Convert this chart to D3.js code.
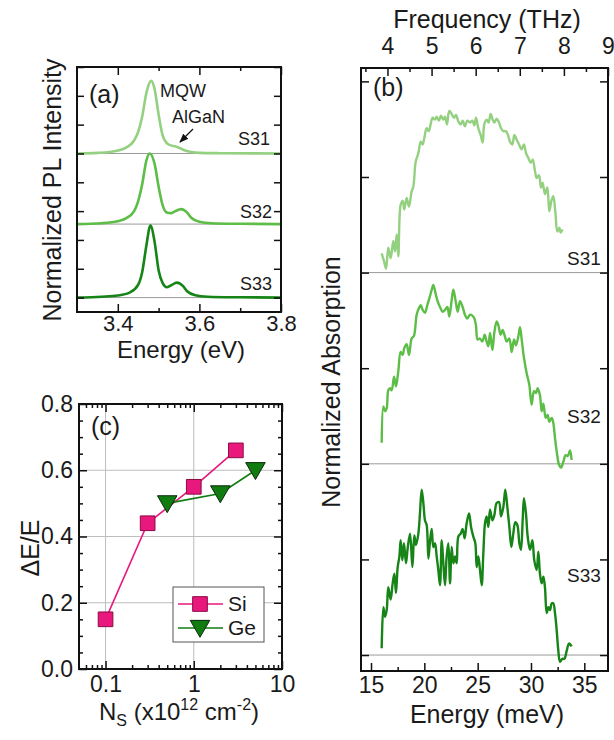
<!DOCTYPE html>
<html>
<head>
<meta charset="utf-8">
<script src="https://cdn.jsdelivr.net/npm/d3@7"></script>
<style>
body { margin: 0; background: #fff; }
text { font-family: "Liberation Sans", Arial, sans-serif; fill: #1a1a1a; }
</style>
</head>
<body>
<svg id="fig" width="614" height="740"></svg>
<script>
// ---- data ----
// (a) PL spectra: [energy eV, intensity above own baseline]
var plS31 = [[3.30,0.00],[3.35,0.02],[3.38,0.05],[3.40,0.10],[3.42,0.20],[3.44,0.45],[3.45,0.75],[3.46,1.30],[3.47,2.10],[3.482,2.52],[3.49,2.25],[3.50,1.35],[3.51,0.62],[3.52,0.36],[3.53,0.28],[3.54,0.25],[3.55,0.20],[3.56,0.13],[3.58,0.05],[3.60,0.02],[3.65,0.01],[3.80,0.00]];
var plS32 = [[3.30,0.00],[3.36,0.03],[3.40,0.10],[3.42,0.20],[3.44,0.45],[3.45,0.80],[3.46,1.40],[3.47,2.20],[3.478,2.45],[3.49,2.10],[3.50,1.30],[3.51,0.65],[3.52,0.40],[3.53,0.38],[3.54,0.44],[3.555,0.52],[3.57,0.40],[3.58,0.22],[3.60,0.08],[3.63,0.03],[3.70,0.01],[3.80,0.00]];
var plS33 = [[3.30,0.00],[3.36,0.03],[3.40,0.07],[3.43,0.18],[3.45,0.45],[3.46,0.90],[3.47,1.80],[3.48,2.50],[3.49,1.95],[3.50,0.95],[3.51,0.50],[3.52,0.36],[3.53,0.42],[3.545,0.52],[3.56,0.40],[3.57,0.22],[3.59,0.08],[3.62,0.03],[3.70,0.01],[3.80,0.00]];

// (b) absorption spectra: [energy meV, absorption above own baseline]
var absS31 = [[16.00,0.20],[16.22,0.12],[16.41,0.04],[16.62,0.26],[16.84,0.15],[17.09,0.33],[17.25,0.22],[17.41,0.40],[17.56,0.17],[17.78,0.71],[17.97,0.75],[18.12,0.66],[18.34,0.78],[18.56,0.69],[18.81,0.85],[18.97,0.90],[19.19,1.16],[19.44,1.25],[19.66,1.37],[19.84,1.34],[20.00,1.41],[20.22,1.51],[20.41,1.48],[20.59,1.55],[20.78,1.62],[21.00,1.60],[21.16,1.63],[21.37,1.59],[21.56,1.64],[21.78,1.60],[21.94,1.63],[22.12,1.55],[22.34,1.69],[22.56,1.66],[22.78,1.62],[22.97,1.65],[23.19,1.58],[23.41,1.55],[23.59,1.59],[23.81,1.53],[24.03,1.59],[24.28,1.57],[24.50,1.59],[24.69,1.54],[24.84,1.62],[25.06,1.51],[25.28,1.44],[25.47,1.36],[25.62,1.55],[25.84,1.60],[26.03,1.57],[26.22,1.66],[26.41,1.60],[26.56,1.57],[26.78,1.61],[27.00,1.57],[27.19,1.51],[27.41,1.48],[27.63,1.48],[27.81,1.45],[28.03,1.37],[28.25,1.34],[28.44,1.44],[28.66,1.39],[28.88,1.34],[29.12,1.29],[29.34,1.34],[29.53,1.25],[29.75,1.20],[29.97,1.15],[30.16,1.18],[30.38,1.06],[30.53,0.99],[30.75,1.02],[30.94,0.89],[31.09,0.94],[31.31,0.82],[31.53,0.89],[31.72,0.64],[31.91,0.75],[32.09,0.80],[32.28,0.64],[32.47,0.43],[32.66,0.47],[32.78,0.42],[32.97,0.45]];
var absS32 = [[16.00,0.22],[16.16,0.60],[16.31,0.55],[16.47,0.58],[16.62,0.77],[16.78,0.79],[16.94,0.77],[17.16,0.91],[17.34,0.81],[17.56,0.97],[17.78,1.17],[17.97,1.14],[18.12,1.21],[18.34,1.25],[18.56,1.14],[18.81,1.31],[19.03,1.34],[19.28,1.56],[19.50,1.63],[19.66,1.66],[19.84,1.61],[20.06,1.58],[20.28,1.66],[20.47,1.73],[20.69,1.82],[20.84,1.87],[21.06,1.78],[21.25,1.70],[21.47,1.64],[21.72,1.59],[21.94,1.61],[22.16,1.64],[22.34,1.54],[22.56,1.71],[22.72,1.82],[22.94,1.70],[23.13,1.59],[23.34,1.70],[23.59,1.64],[23.81,1.56],[24.03,1.52],[24.28,1.56],[24.50,1.55],[24.69,1.52],[24.84,1.45],[25.00,1.30],[25.22,1.31],[25.44,1.28],[25.66,1.35],[25.84,1.28],[26.00,1.23],[26.16,1.37],[26.38,1.19],[26.56,1.37],[26.78,1.49],[26.94,1.45],[27.16,1.35],[27.34,1.40],[27.56,1.33],[27.72,1.28],[27.97,1.31],[28.19,1.17],[28.41,1.30],[28.59,1.24],[28.81,1.33],[28.97,1.43],[29.12,1.31],[29.34,1.11],[29.59,0.95],[29.84,0.83],[30.06,0.62],[30.28,0.76],[30.47,0.74],[30.62,0.79],[30.84,0.72],[31.00,0.55],[31.16,0.63],[31.38,0.48],[31.56,0.51],[31.72,0.44],[31.94,0.48],[32.09,0.43],[32.25,0.27],[32.41,0.13],[32.63,-0.01],[32.81,-0.04],[33.03,0.02],[33.25,0.09],[33.44,0.08],[33.66,0.14],[33.81,0.04]];
var absS33 = [[16.00,0.07],[16.16,0.50],[16.31,0.40],[16.47,0.47],[16.62,0.71],[16.84,0.58],[17.03,0.75],[17.19,0.85],[17.34,0.65],[17.50,0.92],[17.66,1.03],[17.78,1.20],[17.94,0.99],[18.09,1.17],[18.28,0.96],[18.44,1.12],[18.66,1.27],[18.88,0.92],[19.06,1.25],[19.22,1.15],[19.44,1.27],[19.59,1.48],[19.75,1.73],[19.91,1.59],[20.06,1.41],[20.22,1.36],[20.38,1.01],[20.53,1.19],[20.69,1.32],[20.84,1.13],[21.00,1.17],[21.16,1.03],[21.31,0.89],[21.47,0.73],[21.63,1.20],[21.78,0.96],[21.94,0.73],[22.09,1.03],[22.25,1.17],[22.41,0.75],[22.56,1.13],[22.72,0.96],[22.88,1.03],[23.03,0.96],[23.19,1.24],[23.41,1.27],[23.59,1.32],[23.78,1.22],[23.97,1.38],[24.19,1.48],[24.38,1.34],[24.59,1.24],[24.78,1.17],[24.91,0.92],[25.06,1.03],[25.22,0.89],[25.38,0.73],[25.53,1.06],[25.69,1.38],[25.84,1.45],[26.00,1.34],[26.16,1.52],[26.38,1.41],[26.56,1.46],[26.78,1.59],[27.00,1.60],[27.19,1.45],[27.41,1.55],[27.59,1.73],[27.78,1.55],[27.97,1.34],[28.16,1.13],[28.34,1.27],[28.53,1.39],[28.72,1.36],[28.91,1.17],[29.06,1.10],[29.22,1.41],[29.34,1.64],[29.53,1.48],[29.69,1.24],[29.91,1.10],[30.13,1.20],[30.31,0.99],[30.53,0.89],[30.69,1.08],[30.84,0.85],[31.00,0.75],[31.16,0.82],[31.31,0.71],[31.47,0.44],[31.63,0.50],[31.78,0.47],[31.94,0.54],[32.09,0.54],[32.25,0.44],[32.41,0.26],[32.56,0.05],[32.72,-0.07],[32.94,-0.04],[33.13,-0.04],[33.34,0.04],[33.56,0.12],[33.81,0.09]];

// (c) relative linewidth vs sheet density
var siNs = [0.1, 0.3, 1, 3];
var siDE = [0.15, 0.44, 0.55, 0.66];
var geNs = [0.5, 2, 5];
var geDE = [0.50, 0.53, 0.60];

// tick values
var aXMajor = [3.4, 3.6, 3.8], aXMinor = [3.5, 3.7], aYTicks = [0, 1, 2, 3, 4, 5, 6, 7, 8];
var bXMajor = [15, 20, 25, 30, 35], bXMinor = [17.5, 22.5, 27.5, 32.5];
var bTopMajor = [4, 5, 6, 7, 8, 9], bTopMinor = [3.5, 4.5, 5.5, 6.5, 7.5, 8.5], bYTicks = [0, 1, 2, 3, 4, 5, 6];
var cXMajor = [0.1, 1, 10], cXMinor = [0.06, 0.07, 0.08, 0.09, 0.2, 0.3, 0.4, 0.5, 0.6, 0.7, 0.8, 0.9, 2, 3, 4, 5, 6, 7, 8, 9];
var cYMajor = [0, 0.2, 0.4, 0.6, 0.8], cYMinor = [0.05, 0.1, 0.15, 0.25, 0.3, 0.35, 0.45, 0.5, 0.55, 0.65, 0.7, 0.75];

var meVperTHz = 4.1357;

// ---- colours / layout ----
var cS31 = "#93d181", cS32 = "#5cbd47", cS33 = "#168416";
var cSi = "#e8187c", cSiEdge = "#8c0a44", cGe = "#107c10";
var plOffsets = { S31: 5.0, S32: 2.55, S33: 0 };
var absOffsets = { S31: 4, S32: 2, S33: 0 };

var svg = d3.select("#fig");
svg.append("rect").attr("width", 614).attr("height", 740).attr("fill", "#fff");

function axisStyle(g, fs) {
	g.attr("font-family", null).attr("font-size", null);
	g.select(".domain").remove();
	g.selectAll(".tick line").attr("stroke", "#111").attr("stroke-width", 1.5);
	g.selectAll(".tick text").attr("font-size", fs || 23).attr("fill", "#1a1a1a");
}

function addAxis(axis, vals, size, pad, fmt, tr, fs) {
	var g = svg.append("g").attr("transform", tr);
	g.call(axis.tickValues(vals).tickSizeInner(-size).tickSizeOuter(0).tickPadding(pad).tickFormat(fmt || function() { return ""; }));
	axisStyle(g, fs);
	return g;
}

function frame(x0, y0, x1, y1) {
	svg.append("rect").attr("x", x0).attr("y", y0).attr("width", x1 - x0).attr("height", y1 - y0)
		.attr("fill", "none").attr("stroke", "#111").attr("stroke-width", 2);
}

function label(x, y, txt, fs, anchor) {
	return svg.append("text").attr("x", x).attr("y", y).attr("font-size", fs)
		.attr("text-anchor", anchor || "start").text(txt);
}

function vlabel(x, y, txt, fs) {
	return svg.append("text").attr("transform", "translate(" + x + "," + y + ") rotate(-90)")
		.attr("font-size", fs).attr("text-anchor", "middle").text(txt);
}

// =================== panel (a) ===================
var ax = d3.scaleLinear().domain([3.3, 3.8]).range([77, 281]);
var ay = d3.scaleLinear().domain([-0.5, 8]).range([312, 67]);

[plOffsets.S31, plOffsets.S32, plOffsets.S33].forEach(function(o) {
	svg.append("line").attr("x1", ax(3.3)).attr("x2", ax(3.8)).attr("y1", ay(o)).attr("y2", ay(o))
		.attr("stroke", "#9a9a9a").attr("stroke-width", 1);
});

var plSets = [[plS31, plOffsets.S31, cS31], [plS32, plOffsets.S32, cS32], [plS33, plOffsets.S33, cS33]];
plSets.forEach(function(s) {
	var line = d3.line().curve(d3.curveMonotoneX)
		.x(function(d) { return ax(d[0]); })
		.y(function(d) { return ay(d[1] + s[1]); });
	svg.append("path").datum(s[0]).attr("d", line).attr("fill", "none")
		.attr("stroke", s[2]).attr("stroke-width", 2.6).attr("stroke-linejoin", "round");
});

addAxis(d3.axisBottom(ax), aXMajor, 8, 3, d3.format(".1f"), "translate(0,312)", 22);
addAxis(d3.axisBottom(ax), aXMinor, 4, 4, null, "translate(0,312)");
addAxis(d3.axisTop(ax), aXMajor, 8, 4, null, "translate(0,67)");
addAxis(d3.axisTop(ax), aXMinor, 4, 4, null, "translate(0,67)");
addAxis(d3.axisLeft(ay), aYTicks, 7, 4, null, "translate(77,0)");
addAxis(d3.axisRight(ay), aYTicks, 7, 4, null, "translate(281,0)");
frame(77, 67, 281, 312);

label(89, 103, "(a)", 25);
label(160, 97, "MQW", 18);
label(172, 123, "AlGaN", 18);
label(270, 145, "S31", 18, "end");
label(272, 218, "S32", 18, "end");
label(272, 290, "S33", 18, "end");

svg.append("defs").append("marker").attr("id", "arr").attr("viewBox", "0 0 10 10")
	.attr("refX", 9).attr("refY", 5).attr("markerWidth", 7).attr("markerHeight", 7)
	.attr("orient", "auto").append("path").attr("d", "M0,1 L10,5 L0,9 Z").attr("fill", "#111");
svg.append("line").attr("x1", 193).attr("y1", 129).attr("x2", 180).attr("y2", 142)
	.attr("stroke", "#111").attr("stroke-width", 1.3).attr("marker-end", "url(#arr)");

vlabel(61, 190, "Normalized PL Intensity", 25);
label(181, 358, "Energy (eV)", 24, "middle");

// =================== panel (b) ===================
var bx = d3.scaleLinear().domain([3.4 * meVperTHz, 9 * meVperTHz]).range([361, 608]);
var bxTop = d3.scaleLinear().domain([3.4, 9]).range([361, 608]);
var by = d3.scaleLinear().domain([-0.167, 6.14]).range([671, 68]);

[absOffsets.S31, absOffsets.S32, absOffsets.S33].forEach(function(o) {
	svg.append("line").attr("x1", 361).attr("x2", 608).attr("y1", by(o)).attr("y2", by(o))
		.attr("stroke", "#9a9a9a").attr("stroke-width", 1);
});

var absSets = [[absS31, absOffsets.S31, cS31], [absS32, absOffsets.S32, cS32], [absS33, absOffsets.S33, cS33]];
absSets.forEach(function(s) {
	var line = d3.line().curve(d3.curveCatmullRom.alpha(0.5))
		.x(function(d) { return bx(d[0]); })
		.y(function(d) { return by(d[1] + s[1]); });
	svg.append("path").datum(s[0]).attr("d", line).attr("fill", "none")
		.attr("stroke", s[2]).attr("stroke-width", 2.4).attr("stroke-linejoin", "round");
});

addAxis(d3.axisBottom(bx), bXMajor, 8, 5.5, d3.format("d"), "translate(0,671)");
addAxis(d3.axisBottom(bx), bXMinor, 4, 4, null, "translate(0,671)");
addAxis(d3.axisTop(bxTop), bTopMajor, 8, 14, d3.format("d"), "translate(0,68)");
addAxis(d3.axisTop(bxTop), bTopMinor, 4, 4, null, "translate(0,68)");
addAxis(d3.axisLeft(by), bYTicks, 8, 4, null, "translate(361,0)");
addAxis(d3.axisRight(by), bYTicks, 8, 4, null, "translate(608,0)");
frame(361, 68, 608, 671);

label(373, 96, "(b)", 25);
label(567, 265, "S31", 19);
label(567, 423, "S32", 19);
label(567, 582, "S33", 19);

vlabel(340, 382, "Normalized Absorption", 25);
label(487, 723, "Energy (meV)", 25, "middle");
label(487, 28, "Frequency (THz)", 25, "middle");

// =================== panel (c) ===================
var cx = d3.scaleLog().domain([0.05, 10]).range([79, 282]);
var cy = d3.scaleLinear().domain([0, 0.8]).range([669, 404]);

cXMajor.slice(0, 2).forEach(function(v) {
	svg.append("line").attr("x1", cx(v)).attr("x2", cx(v)).attr("y1", 404).attr("y2", 669)
		.attr("stroke", "#bdbdbd").attr("stroke-width", 1);
});
cYMajor.slice(1, 4).forEach(function(v) {
	svg.append("line").attr("x1", 79).attr("x2", 282).attr("y1", cy(v)).attr("y2", cy(v))
		.attr("stroke", "#bdbdbd").attr("stroke-width", 1);
});

var siPts = siNs.map(function(n, i) { return [n, siDE[i]]; });
var gePts = geNs.map(function(n, i) { return [n, geDE[i]]; });
var cLine = d3.line().x(function(d) { return cx(d[0]); }).y(function(d) { return cy(d[1]); });

svg.append("path").datum(siPts).attr("d", cLine).attr("fill", "none").attr("stroke", cSi).attr("stroke-width", 1.6);
svg.append("path").datum(gePts).attr("d", cLine).attr("fill", "none").attr("stroke", cGe).attr("stroke-width", 1.6);

var sq = d3.symbol().type(d3.symbolSquare).size(215);
var tri = d3.symbol().type(d3.symbolTriangle).size(165);

svg.selectAll(".si").data(siPts).enter().append("path").attr("class", "si")
	.attr("d", sq).attr("transform", function(d) { return "translate(" + cx(d[0]) + "," + cy(d[1]) + ")"; })
	.attr("fill", cSi).attr("stroke", cSiEdge).attr("stroke-width", 1);
svg.selectAll(".ge").data(gePts).enter().append("path").attr("class", "ge")
	.attr("d", tri).attr("transform", function(d) { return "translate(" + cx(d[0]) + "," + (cy(d[1]) - 2) + ") rotate(180)"; })
	.attr("fill", cGe).attr("stroke", "#0a2a0a").attr("stroke-width", 1);

addAxis(d3.axisBottom(cx), cXMajor, 8, 7, function(d) { return d3.format("~g")(d); }, "translate(0,669)");
addAxis(d3.axisBottom(cx), cXMinor, 4, 4, null, "translate(0,669)");
addAxis(d3.axisTop(cx), cXMajor, 8, 4, null, "translate(0,404)");
addAxis(d3.axisTop(cx), cXMinor, 4, 4, null, "translate(0,404)");
addAxis(d3.axisLeft(cy), cYMajor, 8, 6, d3.format(".1f"), "translate(79,0)");
addAxis(d3.axisLeft(cy), cYMinor, 4, 4, null, "translate(79,0)");
addAxis(d3.axisRight(cy), cYMajor, 8, 4, null, "translate(282,0)");
addAxis(d3.axisRight(cy), cYMinor, 4, 4, null, "translate(282,0)");
frame(79, 404, 282, 669);

// legend
svg.append("rect").attr("x", 173).attr("y", 587).attr("width", 91).attr("height", 55)
	.attr("fill", "#fff").attr("stroke", "#555").attr("stroke-width", 1);
var legend = [["Si", cSi, sq, cSiEdge, 604, 0], ["Ge", cGe, tri, "#0a2a0a", 628, 180]];
legend.forEach(function(l) {
	svg.append("line").attr("x1", 178).attr("x2", 223).attr("y1", l[4]).attr("y2", l[4])
		.attr("stroke", l[1]).attr("stroke-width", 1.6);
	svg.append("path").attr("d", l[2]).attr("transform", "translate(200," + (l[4] - (l[5] ? 2 : 0)) + ") rotate(" + l[5] + ")")
		.attr("fill", l[1]).attr("stroke", l[3]).attr("stroke-width", 1);
	label(228, l[4] + 7, l[0], 21);
});

label(91, 435, "(c)", 25);
vlabel(39, 548, "\u0394E/E", 25);

var xl = svg.append("text").attr("x", 179).attr("y", 720).attr("font-size", 24).attr("text-anchor", "middle");
xl.append("tspan").text("N");
xl.append("tspan").attr("font-size", 16).attr("dy", 6).text("S");
xl.append("tspan").attr("dy", -6).text(" (x10");
xl.append("tspan").attr("font-size", 16).attr("dy", -10).text("12");
xl.append("tspan").attr("dy", 10).text(" cm");
xl.append("tspan").attr("font-size", 16).attr("dy", -10).text("-2");
xl.append("tspan").attr("dy", 10).text(")");
</script>
</body>
</html>
